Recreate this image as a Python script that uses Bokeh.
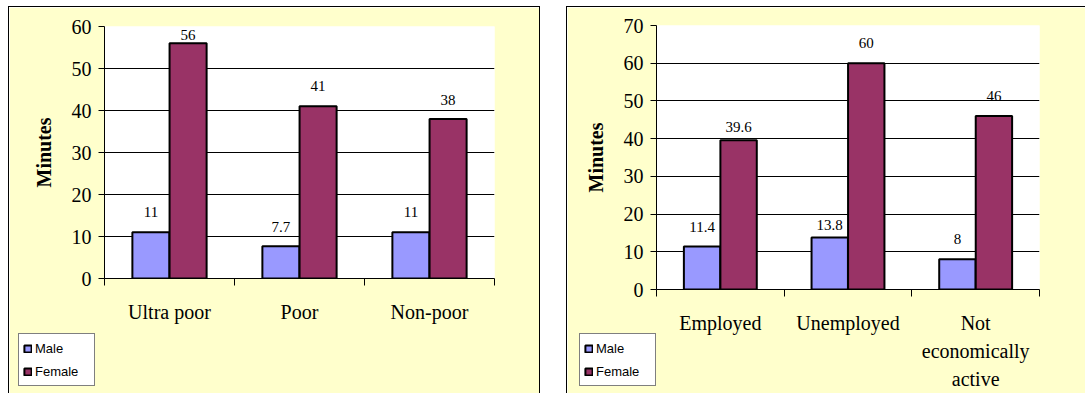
import numpy as np
from bokeh.plotting import figure
from bokeh.models import (ColumnDataSource, Range1d, FixedTicker, Legend, LegendItem,
                          GridBox)
from bokeh.core.properties import value
from bokeh.embed import file_html
from bokeh.resources import INLINE

# ---- data ----
poverty_categories = ["Ultra poor", "Poor", "Non-poor"]
poverty_male = [11, 7.7, 11]
poverty_female = [56, 41, 38]

employment_categories = ["Employed", "Unemployed", "Not\neconomically\nactive"]
employment_male = [11.4, 13.8, 8]
employment_female = [39.6, 60, 46]

series_names = ["Male", "Female"]

# ---- style ----
MALE_COLOR = "#9999FF"
FEMALE_COLOR = "#993366"
CHART_BG = "#FFFFCC"
SERIF = "Liberation Serif"
SANS = "Liberation Sans"
BAR_W = 0.285
DODGE = 0.143
FIG_H = 387


def fmt(v):
    return str(int(v)) if float(v).is_integer() else str(v)


def build(categories, male, female, ymax, width, borders,
          male_nudge, female_nudge, border_css):
    n = len(categories)
    p = figure(width=width, height=FIG_H, output_backend="svg", toolbar_location=None,
               x_range=Range1d(0, n), y_range=Range1d(0, ymax),
               min_border_left=borders[0], min_border_right=borders[1],
               min_border_top=borders[2], min_border_bottom=borders[3])
    p.frame_align = False
    p.border_fill_color = CHART_BG
    p.background_fill_color = "white"
    p.outline_line_color = None
    p.styles = border_css

    centers = [i + 0.5 for i in range(n)]
    src_m = ColumnDataSource(dict(x=[c - DODGE for c in centers], top=male,
                                  lab=[fmt(v) for v in male], off=male_nudge))
    src_f = ColumnDataSource(dict(x=[c + DODGE for c in centers], top=female,
                                  lab=[fmt(v) for v in female], off=female_nudge))

    p.vbar(x="x", top="top", bottom=0, width=BAR_W, source=src_m,
           fill_color=MALE_COLOR, line_color="black", line_width=2)
    p.vbar(x="x", top="top", bottom=0, width=BAR_W, source=src_f,
           fill_color=FEMALE_COLOR, line_color="black", line_width=2)

    for src in (src_m, src_f):
        p.text(x="x", y="top", text="lab", source=src, y_offset="off",
               text_font=value(SERIF), text_font_size="15px", text_color="black",
               text_align="center", text_baseline="middle")

    # x axis: labels at centres, tick marks at category boundaries
    xa = p.xaxis[0]
    xa.ticker = FixedTicker(ticks=centers, minor_ticks=list(range(n + 1)))
    xa.major_label_overrides = {c: cat for c, cat in zip(centers, categories)}
    xa.major_tick_line_color = None
    xa.major_tick_out = 0
    xa.minor_tick_in = 0
    xa.minor_tick_out = 7
    xa.minor_tick_line_color = "black"
    xa.axis_line_color = "black"
    xa.major_label_text_font = SERIF
    xa.major_label_text_font_size = "20px"
    xa.major_label_text_color = "black"
    xa.major_label_text_line_height = 1.29
    xa.major_label_standoff = 15
    xa.major_label_orientation = "horizontal"

    ya = p.yaxis[0]
    ya.ticker = FixedTicker(ticks=list(range(0, ymax + 1, 10)))
    ya.axis_label = "Minutes"
    ya.axis_label_text_font = SERIF
    ya.axis_label_text_font_style = "bold"
    ya.axis_label_text_font_size = "20px"
    ya.axis_label_text_color = "black"
    ya.axis_label_standoff = 14
    ya.major_label_text_font = SERIF
    ya.major_label_text_font_size = "20px"
    ya.major_label_text_color = "black"
    ya.major_label_standoff = 7
    ya.major_tick_in = 0
    ya.major_tick_out = 6
    ya.major_tick_line_color = "black"
    ya.minor_tick_line_color = None
    ya.axis_line_color = "black"

    p.xgrid.grid_line_color = None
    p.ygrid.grid_line_color = "black"
    p.ygrid.grid_line_alpha = 1.0
    p.ygrid.ticker = ya.ticker
    return p


def legend_overlay(width, loc):
    """Transparent figure laid over a chart, holding only its legend box."""
    q = figure(width=width, height=FIG_H, output_backend="svg", toolbar_location=None,
               x_axis_location=None, y_axis_location=None, min_border=0,
               x_range=Range1d(0, 1), y_range=Range1d(0, 1))
    q.frame_align = False
    q.border_fill_color = None
    q.background_fill_color = None
    q.outline_line_color = None
    q.xgrid.grid_line_color = None
    q.ygrid.grid_line_color = None
    rs = []
    for color in (MALE_COLOR, FEMALE_COLOR):
        # legend swatch carrier: a single NaN bar, nothing is drawn in the plot
        src = ColumnDataSource(dict(x=np.array([np.nan]), top=np.array([np.nan])))
        rs.append(q.vbar(x="x", top="top", bottom=0, width=0.1, source=src,
                         fill_color=color, line_color="black", line_width=2))
    legend = Legend(items=[LegendItem(label=name, renderers=[r])
                           for name, r in zip(series_names, rs)],
                    location=loc)
    legend.glyph_width = 9
    legend.glyph_height = 9
    legend.label_text_font = SANS
    legend.label_text_font_size = "13px"
    legend.label_text_color = "black"
    legend.label_standoff = 3
    legend.label_width = 55
    legend.label_height = 20
    legend.spacing = 3
    legend.padding = 4
    legend.margin = 0
    legend.border_line_color = "black"
    legend.border_line_width = 1
    legend.background_fill_color = "white"
    legend.background_fill_alpha = 1.0
    q.add_layout(legend, "center")
    return q


p1 = build(poverty_categories, poverty_male, poverty_female, 60,
           width=532, borders=(95, 47, 19, 116),
           male_nudge=[-20, -19, -20], female_nudge=[-8, -20, -19],
           border_css={"border-top": "1px solid black", "border-left": "1px solid black",
                       "border-right": "1px solid black"})
p2 = build(employment_categories, employment_male, employment_female, 70,
           width=519, borders=(89, 47, 18, 105),
           male_nudge=[-20, -12, -20], female_nudge=[-13, -20, -20],
           border_css={"border-top": "1px solid black", "border-left": "1px solid black"})

l1 = legend_overlay(532, (10, 7))
l2 = legend_overlay(519, (13, 7))

layout = GridBox(children=[(p1, 0, 0), (l1, 0, 0), (p2, 0, 1), (l2, 0, 1)],
                 spacing=(0, 26), margin=(6, 0, 0, 8))
open("out.html", "w").write(file_html(layout, INLINE))
